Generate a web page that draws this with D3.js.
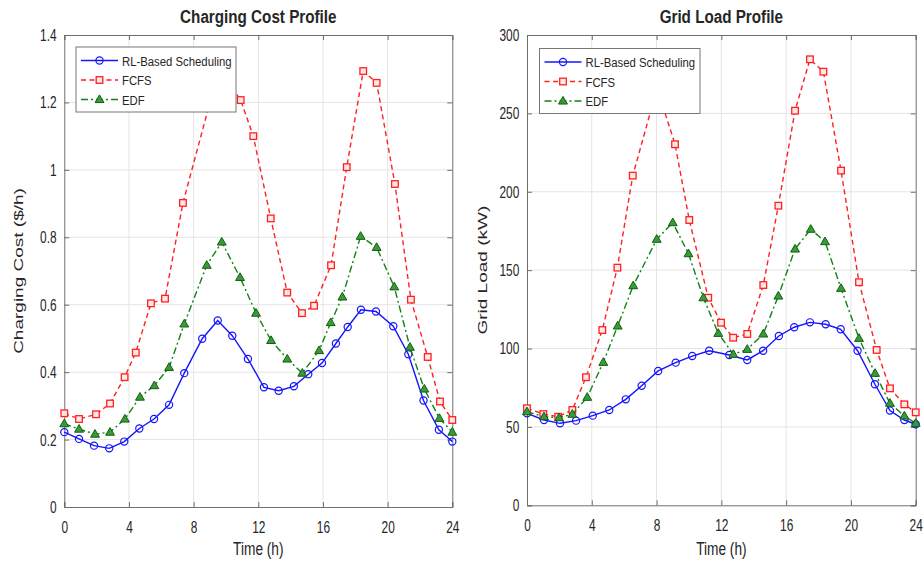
<!DOCTYPE html>
<html>
<head>
<meta charset="utf-8">
<script src="https://cdn.jsdelivr.net/npm/d3@7"></script>
<style>
  body { margin: 0; background: #fff; }
  svg text { font-family: "Liberation Sans", Arial, sans-serif; fill: #262626; }
</style>
</head>
<body>
<div id="chart"></div>
<script>
// ---- data ----
// left panel: charging cost ($/h)
var costRLTime   = [0, 0.91, 1.84, 2.78, 3.71, 4.64, 5.55, 6.48, 7.42, 8.53, 9.49, 10.39, 11.36, 12.35, 13.26, 14.2, 15.09, 15.94, 16.8, 17.53, 18.35, 19.28, 20.35, 21.28, 22.22, 23.17, 24];
var costRL       = [0.222, 0.202, 0.182, 0.174, 0.194, 0.233, 0.261, 0.303, 0.397, 0.499, 0.553, 0.508, 0.439, 0.355, 0.345, 0.358, 0.394, 0.427, 0.485, 0.534, 0.585, 0.580, 0.536, 0.453, 0.316, 0.229, 0.194];
var costFCFSTime = [0, 0.91, 1.96, 2.83, 3.73, 4.42, 5.36, 6.23, 7.34, 9.57, 10.91, 11.69, 12.77, 13.79, 14.7, 15.45, 16.5, 17.47, 18.49, 19.32, 20.45, 21.44, 22.48, 23.24, 24];
var costFCFS     = [0.278, 0.261, 0.275, 0.307, 0.385, 0.458, 0.604, 0.618, 0.902, 1.30, 1.207, 1.100, 0.856, 0.636, 0.575, 0.597, 0.717, 1.008, 1.293, 1.258, 0.958, 0.615, 0.445, 0.313, 0.258];
var costEDFTime  = [0, 0.91, 1.9, 2.83, 3.75, 4.68, 5.57, 6.48, 7.42, 8.81, 9.74, 10.87, 11.86, 12.79, 13.79, 14.72, 15.76, 16.48, 17.2, 18.33, 19.32, 20.41, 21.38, 22.27, 23.2, 24];
var costEDF      = [0.247, 0.231, 0.216, 0.222, 0.261, 0.326, 0.360, 0.414, 0.543, 0.717, 0.786, 0.681, 0.575, 0.494, 0.439, 0.397, 0.464, 0.547, 0.623, 0.803, 0.770, 0.653, 0.474, 0.350, 0.263, 0.222];

// right panel: grid load (kW)
var loadRLTime   = [0, 1.05, 2.04, 3.03, 4.06, 5.08, 6.1, 7.08, 8.1, 9.18, 10.2, 11.25, 12.49, 13.6, 14.58, 15.55, 16.5, 17.47, 18.44, 19.37, 20.41, 21.48, 22.41, 23.3, 24];
var loadRL       = [58.7, 54.4, 52.3, 54.0, 57.2, 60.8, 67.6, 76.3, 85.7, 91.0, 95.2, 98.6, 95.9, 92.7, 98.6, 108.0, 113.6, 116.7, 115.5, 112.3, 98.6, 77.2, 60.4, 54.4, 51.7];
var loadFCFSTime = [0, 1.01, 1.93, 2.8, 3.64, 4.65, 5.58, 6.53, 8.03, 9.14, 10.02, 11.19, 11.98, 12.73, 13.6, 14.59, 15.52, 16.55, 17.47, 18.3, 19.39, 20.5, 21.59, 22.41, 23.3, 24];
var loadFCFS     = [61.9, 58.2, 56.5, 60.8, 81.7, 111.8, 151.6, 210.3, 266, 230.3, 182.0, 132.4, 116.5, 106.9, 109.3, 140.5, 191.1, 251.7, 284.5, 276.6, 213.5, 142.3, 99.1, 74.6, 64.4, 59.3];
var loadEDFTime  = [0, 1.05, 1.98, 2.8, 3.72, 4.71, 5.6, 6.56, 8.01, 9.0, 9.97, 10.89, 11.81, 12.74, 13.6, 14.59, 15.52, 16.55, 17.52, 18.4, 19.39, 20.5, 21.49, 22.41, 23.3, 24];
var loadEDF      = [59.7, 56.5, 55.9, 58.1, 68.9, 91.2, 114.4, 140.1, 169.7, 180.3, 160.5, 132.4, 109.7, 96.3, 99.5, 109.3, 133.5, 163.5, 176.1, 168.2, 138.4, 106.5, 84.2, 65.1, 57.0, 52.3];

var seriesNames = ["RL-Based Scheduling", "FCFS", "EDF"];
var timeTicks = [0, 4, 8, 12, 16, 20, 24];
var costTicks = [0, 0.2, 0.4, 0.6, 0.8, 1, 1.2, 1.4];
var loadTicks = [0, 50, 100, 150, 200, 250, 300];

var styles = [
  {color: "#1414ff", dash: null,       marker: "circle"},
  {color: "#ff2020", dash: "5,3.5",    marker: "square"},
  {color: "#158015", dash: "7,3,2,3",  marker: "triangle"}
];

var svg = d3.select("#chart").append("svg")
  .attr("width", 923)
  .attr("height", 565);

// the source figure's text is narrow and tall, squeeze it sideways
function label(parent, x, y, str, size, sx, opts) {
  opts = opts || {};
  var t = parent.append("text")
    .attr("transform", "translate(" + x + "," + y + ") scale(" + sx + ",1)" + (opts.rotate ? " rotate(-90)" : ""))
    .attr("text-anchor", opts.anchor || "middle")
    .style("font-size", size + "px")
    .text(str);
  if (opts.bold) t.style("font-weight", "bold").attr("fill", "#111");
  return t;
}

function drawPanel(p) {
  var x = d3.scaleLinear().domain([0, 24]).range([p.left, p.right]);
  var y = d3.scaleLinear().domain([0, p.yMax]).range([p.bottom, p.top]);
  var g = svg.append("g");

  // grid
  g.selectAll(".vgrid").data(timeTicks.slice(1, -1)).enter().append("line")
    .attr("x1", d => x(d)).attr("x2", d => x(d))
    .attr("y1", p.top).attr("y2", p.bottom)
    .attr("stroke", "#e4e4e4").attr("stroke-width", 1);
  g.selectAll(".hgrid").data(p.yTicks.slice(1, -1)).enter().append("line")
    .attr("x1", p.left).attr("x2", p.right)
    .attr("y1", d => y(d)).attr("y2", d => y(d))
    .attr("stroke", "#e4e4e4").attr("stroke-width", 1);

  // axes (ticks inside, box)
  var xAxis = d3.axisBottom(x).tickValues(timeTicks).tickSize(-5).tickPadding(14).tickFormat(d3.format("d"));
  var yAxis = d3.axisLeft(y).tickValues(p.yTicks).tickSize(-5).tickPadding(11).tickFormat(d3.format("~g"));
  g.append("g").attr("transform", "translate(0," + p.bottom + ")").call(xAxis);
  g.append("g").attr("transform", "translate(" + p.left + ",0)").call(yAxis);
  g.append("g").attr("transform", "translate(0," + p.top + ")")
    .call(d3.axisTop(x).tickValues(timeTicks).tickSize(-5).tickFormat(""));
  g.append("g").attr("transform", "translate(" + p.right + ",0)")
    .call(d3.axisRight(y).tickValues(p.yTicks).tickSize(-5).tickFormat(""));
  g.selectAll(".domain").attr("stroke", "#6e6e6e");
  g.selectAll(".tick line").attr("stroke", "#6e6e6e");
  g.selectAll(".tick text").style("font-size", "17px").attr("fill", "#333")
    .attr("transform", "scale(0.7,1)");

  // lines and markers
  p.series.forEach(function(s, i) {
    var st = styles[i];
    var pts = s.t.map((t, k) => [t, s.v[k]]);
    var line = d3.line().x(d => x(d[0])).y(d => y(d[1]));
    g.append("path").datum(pts)
      .attr("d", line)
      .attr("fill", "none")
      .attr("stroke", st.color)
      .attr("stroke-width", 1.4)
      .attr("stroke-dasharray", st.dash);
    drawMarkers(g, pts.map(d => [x(d[0]), y(d[1])]), st);
  });

  // legend
  var lg = g.append("g").attr("transform", "translate(" + p.legX + "," + p.legY + ")");
  lg.append("rect").attr("width", p.legW).attr("height", 65)
    .attr("fill", "#fff").attr("stroke", "#777").attr("stroke-width", 1);
  seriesNames.forEach(function(name, i) {
    var yy = 13.5 + i * 19.5;
    lg.append("line").attr("x1", 5).attr("x2", 42).attr("y1", yy).attr("y2", yy)
      .attr("stroke", styles[i].color).attr("stroke-width", 1.4)
      .attr("stroke-dasharray", styles[i].dash);
    drawMarkers(lg, [[23.5, yy]], styles[i]);
    label(lg, 46, yy + 5, name, 13.5, 0.84, {anchor: "start"});
  });

  // titles
  var cx = (p.left + p.right) / 2;
  label(svg, cx, 22.5, p.title, 17.5, 0.87, {bold: true});
  label(svg, cx, 554.5, "Time (h)", 19, 0.72);
  label(svg, p.yLabelX, (p.top + p.bottom) / 2, p.yLabel, 19, 0.72, {rotate: true});
}

function drawMarkers(g, pts, st) {
  if (st.marker === "circle") {
    g.selectAll(null).data(pts).enter().append("circle")
      .attr("cx", d => d[0]).attr("cy", d => d[1]).attr("r", 3.6)
      .attr("fill", "none").attr("stroke", st.color).attr("stroke-width", 1.2);
  } else if (st.marker === "square") {
    g.selectAll(null).data(pts).enter().append("rect")
      .attr("x", d => d[0] - 3.3).attr("y", d => d[1] - 3.3)
      .attr("width", 6.6).attr("height", 6.6)
      .attr("fill", "#ffe8e8").attr("stroke", st.color).attr("stroke-width", 1.3);
  } else {
    var tri = d3.symbol().type(d3.symbolTriangle).size(34);
    g.selectAll(null).data(pts).enter().append("path")
      .attr("d", tri)
      .attr("transform", d => "translate(" + d[0] + "," + (d[1] + 0.5) + ")")
      .attr("fill", "#3a9a3a").attr("stroke", "#106010").attr("stroke-width", 1);
  }
}

drawPanel({
  left: 64.3, right: 452.3, top: 35, bottom: 507, yMax: 1.4, yTicks: costTicks,
  title: "Charging Cost Profile", yLabel: "Charging Cost ($/h)", yLabelX: 23,
  legX: 76, legY: 47, legW: 160,
  series: [
    {t: costRLTime, v: costRL},
    {t: costFCFSTime, v: costFCFS},
    {t: costEDFTime, v: costEDF}
  ]
});

drawPanel({
  left: 527, right: 915.7, top: 35, bottom: 505.3, yMax: 300, yTicks: loadTicks,
  title: "Grid Load Profile", yLabel: "Grid Load (kW)", yLabelX: 487,
  legX: 539.5, legY: 48.5, legW: 160.5,
  series: [
    {t: loadRLTime, v: loadRL},
    {t: loadFCFSTime, v: loadFCFS},
    {t: loadEDFTime, v: loadEDF}
  ]
});
</script>
</body>
</html>
